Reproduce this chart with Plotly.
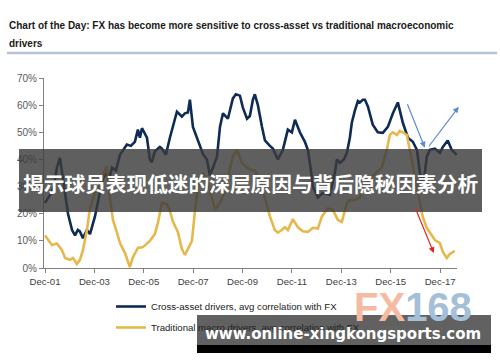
import plotly.graph_objects as go

# ---- data ----
cross_dates = ["2001-12-01", "2002-02-15", "2002-04-12", "2002-05-26", "2002-07-10", "2002-08-09", "2002-09-23",
               "2002-11-06", "2003-01-05", "2003-02-18", "2003-04-01", "2003-05-01", "2003-06-15", "2003-08-13",
               "2003-09-27", "2003-11-10", "2003-12-10", "2004-02-22", "2004-04-06", "2004-06-04", "2004-07-18",
               "2004-08-17", "2004-10-15", "2004-12-14", "2005-02-12", "2005-03-26", "2005-05-24", "2005-07-22",
               "2005-09-05", "2005-10-05", "2005-11-04", "2005-12-18", "2006-01-17", "2006-03-01", "2006-03-30",
               "2006-05-14", "2006-07-27", "2006-08-26", "2006-10-24", "2006-12-22", "2007-02-20", "2007-04-05",
               "2007-06-17", "2007-08-01", "2007-09-15", "2007-10-14", "2007-11-28", "2008-01-26", "2008-03-10",
               "2008-04-24", "2008-06-22", "2008-08-06", "2008-09-19", "2008-11-18", "2009-01-01", "2009-02-14",
               "2009-04-28", "2009-07-11", "2009-08-25", "2009-10-23", "2009-12-07", "2010-02-05", "2010-03-19",
               "2010-05-03", "2010-06-01", "2010-07-16", "2010-09-14", "2010-10-28", "2011-01-10", "2011-02-23",
               "2011-05-07", "2011-07-20", "2011-10-02", "2011-12-01", "2012-01-15", "2012-03-28", "2012-06-10",
               "2012-07-24", "2012-09-07", "2012-10-06", "2012-12-19", "2013-03-02", "2013-06-14", "2013-08-27",
               "2013-09-26", "2013-11-10", "2014-01-08", "2014-02-21", "2014-04-06", "2014-05-05", "2014-06-19",
               "2014-08-03", "2014-09-02", "2014-10-16", "2014-11-15", "2014-12-29", "2015-03-11", "2015-05-24",
               "2015-08-07", "2015-10-20", "2016-01-03", "2016-03-16", "2016-05-29", "2016-08-12", "2016-10-24",
               "2016-12-23", "2017-02-06", "2017-03-20", "2017-04-19", "2017-05-18", "2017-07-02", "2017-09-15",
               "2017-11-28", "2018-01-11", "2018-03-24", "2018-05-22", "2018-08-05"]
cross_vals = [24, 27, 30, 37, 40.6, 35, 28,
              20, 14, 12, 14, 13.5, 11, 14,
              12.5, 16, 19, 28, 33, 35, 34,
              37, 36, 41.7, 44, 45.5, 45, 46.5,
              51, 48, 51.5, 49.5, 48, 40, 39,
              43, 44.6, 44, 41.7, 48, 54, 57.6,
              55.8, 57, 57.3, 62, 52, 48, 45,
              42, 40, 34, 37, 41, 52, 57,
              55, 62.5, 64, 63.5, 59, 55, 56,
              62, 64, 60, 52, 47, 45, 44,
              40, 43.5, 51, 50, 54.6, 50, 46.5,
              43.5, 36, 30, 26, 27.6, 27, 35,
              40, 38.7, 40, 42.4, 48, 53.5, 58,
              61.5, 61, 62, 62, 59.5, 52.8, 50,
              49.8, 52, 57, 61, 53.5, 48, 46.5,
              43.5, 35, 28.5, 35, 41, 43.5, 44,
              42.4, 44.6, 47, 43.5, 41.7]

macro_dates = ["2001-12-01", "2002-01-15", "2002-03-13", "2002-05-26", "2002-08-09", "2002-09-23", "2002-12-05",
               "2003-01-19", "2003-03-17", "2003-05-01", "2003-06-15", "2003-08-13", "2003-09-27", "2003-12-10",
               "2004-02-22", "2004-05-05", "2004-06-04", "2004-07-18", "2004-09-01", "2004-10-30", "2004-12-14",
               "2005-02-26", "2005-05-09", "2005-06-23", "2005-09-05", "2005-11-18", "2006-03-01", "2006-05-14",
               "2006-06-28", "2006-08-26", "2006-11-08", "2006-12-22", "2007-02-06", "2007-04-19", "2007-06-17",
               "2007-08-01", "2007-09-15", "2007-11-13", "2007-12-27", "2008-02-10", "2008-04-24", "2008-08-06",
               "2008-10-18", "2009-01-01", "2009-03-14", "2009-04-28", "2009-07-11", "2009-09-09", "2009-11-22",
               "2010-02-05", "2010-04-18", "2010-06-01", "2010-08-14", "2010-10-28", "2011-01-10", "2011-03-23",
               "2011-05-07", "2011-07-05", "2011-08-18", "2011-10-02", "2011-12-15", "2012-02-28", "2012-05-11",
               "2012-07-24", "2012-10-06", "2012-12-19", "2013-02-17", "2013-05-15", "2013-07-28", "2013-10-11",
               "2013-12-09", "2014-02-21", "2014-04-06", "2014-06-19", "2014-09-02", "2014-11-15", "2015-02-26",
               "2015-07-22", "2015-10-05", "2015-11-18", "2016-01-03", "2016-03-01", "2016-04-15", "2016-05-29",
               "2016-07-27", "2016-09-10", "2016-10-24", "2016-12-23", "2017-02-06", "2017-03-20", "2017-05-18",
               "2017-07-02", "2017-09-15", "2017-11-28", "2018-01-11", "2018-03-10", "2018-04-24", "2018-07-06"]
macro_vals = [12, 10.3, 8.5, 9, 6.6, 3.7, 3,
              3.7, 1.5, 3, 6.6, 14, 22, 27.6,
              31, 36, 37.5, 26, 17.7, 13, 9.2,
              5.5, 0.3, 4, 7.4, 7.7, 10, 12.5,
              16.6, 24, 23.5, 21, 17, 13.3, 7,
              4.8, 7, 10, 20.7, 30, 35, 29,
              21.4, 24, 28, 33.6, 41, 43.5, 38.7,
              37, 36, 36, 32.5, 26, 19, 14,
              13, 14, 15, 14, 18, 15, 13.5,
              13.3, 14.8, 14.5, 19, 22, 21.4, 17.7,
              17, 24, 25, 25, 26, 31, 33.6,
              37, 43.5, 49, 50, 49, 50.5, 50,
              49, 43.5, 37, 30, 24, 18.8, 14.8,
              13, 10.3, 9.2, 5.9, 3.7, 5.2, 6.3]

series_names = ["Cross-asset drivers, avg correlation with FX",
                "Traditional macro drivers, avg correlation with FX"]
y_tick_vals = [0, 10, 20, 30, 40, 50, 60, 70]
y_tick_text = ["0%", "10%", "20%", "30%", "40%", "50%", "60%", "70%"]

title_line1 = "Chart of the Day: FX has become more sensitive to cross-asset vs traditional macroeconomic"
title_line2 = "drivers"
banner_text = "揭示球员表现低迷的深层原因与背后隐秘因素分析"
url_text = "www.online-xingkongsports.com"

# arrows: (tip_x, tip_y, tail_x, tail_y, colour)
arrows = [
    ("2017-04-19", 44.3, "2016-07-27", 60.9, "#5B8BD0"),
    ("2018-09-03", 59.4, "2017-06-02", 44.3, "#5B8BD0"),
    ("2017-08-30", 5.5, "2016-11-23", 22.5, "#E3231C"),
]

# ---- figure ----
W, H = 500, 362
L, R, T, B = 44, 43, 78, 94
PW, PH = W - L - R, H - T - B


def px(x):
    return (x - L) / PW


def py(y):
    return (H - B - y) / PH


fig = go.Figure()
fig.add_trace(go.Scatter(x=cross_dates, y=cross_vals, mode="lines", name=series_names[0],
                         legendgroup="a", line=dict(color="#0D2B55", width=2.6)))
fig.add_trace(go.Scatter(x=macro_dates, y=macro_vals, mode="lines", name=series_names[1],
                         legendgroup="b", line=dict(color="#E6B84C", width=2.6)))

annotations = []
for tx, ty, ax, ay, col in arrows:
    annotations.append(dict(x=tx, y=ty, ax=ax, ay=ay, xref="x", yref="y", axref="x", ayref="y",
                            text="", showarrow=True, arrowhead=2, arrowsize=1, arrowwidth=1.2,
                            arrowcolor=col))

annotations += [
    dict(text=title_line1, x=px(7), y=py(25), xref="paper", yref="paper", xanchor="left",
         yanchor="middle", showarrow=False,
         font=dict(family="Liberation Sans, Arial", size=10, color="#1a1a1a", weight="bold")),
    dict(text=title_line2, x=px(7), y=py(43), xref="paper", yref="paper", xanchor="left",
         yanchor="middle", showarrow=False,
         font=dict(family="Liberation Sans, Arial", size=10, color="#1a1a1a", weight="bold")),
    dict(text=banner_text, x=px(250), y=py(183), xref="paper", yref="paper", xanchor="center",
         yanchor="middle", showarrow=False,
         font=dict(family="Noto Sans CJK SC", size=20.7, color="#ffffff", weight="bold")),
    dict(text="<span style='color:#F6B9A2'>FX</span><span style='color:#A3C0D8'>168</span>",
         x=px(413), y=py(307), xref="paper", yref="paper", xanchor="center", yanchor="middle",
         showarrow=False, font=dict(family="Liberation Sans, Arial", size=40, weight="bold")),
    dict(text=url_text, x=px(343), y=py(334), xref="paper", yref="paper", xanchor="center",
         yanchor="middle", showarrow=False,
         font=dict(family="DejaVu Sans", size=15, color="#ffffff", weight="bold")),
]

shapes = [
    dict(type="line", xref="paper", yref="paper", x0=px(7), x1=px(497), y0=py(53), y1=py(53),
         line=dict(color="#B6C3D6", width=2.5), layer="above"),
    dict(type="rect", xref="paper", yref="paper", x0=px(19), x1=px(482), y0=py(212), y1=py(149),
         fillcolor="rgba(60,60,60,0.82)", line=dict(width=0), layer="above"),
    dict(type="rect", xref="paper", yref="paper", x0=px(197), x1=px(491), y0=py(345), y1=py(315),
         fillcolor="rgba(30,30,30,0.7)", line=dict(width=0), layer="above"),
    dict(type="rect", xref="paper", yref="paper", x0=px(197), x1=px(491), y0=py(353), y1=py(345),
         fillcolor="#000000", line=dict(width=0), layer="above"),
]

fig.update_layout(
    width=W, height=H,
    margin=dict(l=L, r=R, t=T, b=B, autoexpand=False),
    paper_bgcolor="#ffffff", plot_bgcolor="#ffffff",
    font=dict(family="Liberation Sans, Arial", size=10, color="#404040"),
    showlegend=True,
    legend=dict(xref="container", yref="container", x=111 / W, y=1 - 292 / H,
                xanchor="left", yanchor="top", orientation="v",
                font=dict(size=9.6, color="#222222"), tracegroupgap=2,
                bgcolor="rgba(0,0,0,0)", borderwidth=0),
    annotations=annotations,
    shapes=shapes,
)
fig.update_xaxes(type="date", range=["2001-11-16", "2018-08-08"], tickformat="%b-%y",
                 tick0="2001-12-01", dtick="M24", ticks="outside", ticklen=4, tickcolor="#808080",
                 showline=True, linecolor="#808080", linewidth=1, showgrid=False, zeroline=False,
                 automargin=False, tickfont=dict(size=9.6, color="#404040"))
fig.update_yaxes(range=[0, 70], tickvals=y_tick_vals, ticktext=y_tick_text, ticks="outside", ticklen=4,
                 tickcolor="#808080", showline=True, linecolor="#808080", linewidth=1,
                 showgrid=False, zeroline=False, automargin=False,
                 tickfont=dict(size=10, color="#595959"))

fig.write_html("out.html", config={"displayModeBar": False},
               post_script="document.body.style.margin='0';")
